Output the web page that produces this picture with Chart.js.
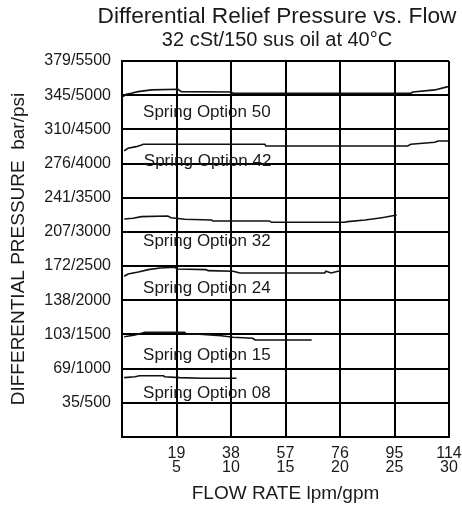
<!DOCTYPE html>
<html>
<head>
<meta charset="utf-8">
<script src="https://cdn.jsdelivr.net/npm/chart.js@4/dist/chart.umd.min.js"></script>
<style>
  html, body { margin: 0; padding: 0; background: #ffffff; }
  #wrap { width: 462px; height: 511px; }
</style>
</head>
<body>
<div id="wrap"><canvas id="c" width="462" height="511"></canvas></div>
<script>
// ---- text ----
const chartTitle = 'Differential Relief Pressure vs. Flow';
const chartSubtitle = '32 cSt/150 sus oil at 40°C';
const xAxisTitle = 'FLOW RATE lpm/gpm';
const yAxisTitle = 'DIFFERENTIAL PRESSURE  bar/psi';

// ---- tick values and labels ----
const flowTicksGpm = [0, 5, 10, 15, 20, 25, 30];
const flowLabelsLpm = ['', '19', '38', '57', '76', '95', '114'];
const flowLabelsGpm = ['', '5', '10', '15', '20', '25', '30'];
const pressureTicksPsi = [0, 500, 1000, 1500, 2000, 2500, 3000, 3500, 4000, 4500, 5000, 5500];
const pressureLabels = ['', '35/500', '69/1000', '103/1500', '138/2000', '172/2500', '207/3000',
                        '241/3500', '276/4000', '310/4500', '345/5000', '379/5500'];

// ---- series (flow in gpm, pressure in psi) ----
const seriesNames = ['Spring Option 50', 'Spring Option 42', 'Spring Option 32',
                     'Spring Option 24', 'Spring Option 15', 'Spring Option 08'];

const opt50Flow = [0.1, 0.4, 0.85, 1.47, 2.7, 5.14, 5.44, 10.0, 10.2, 26.5, 26.7, 28.7, 29.9];
const opt50Psi  = [4979, 5014, 5028, 5052, 5077, 5087, 5052, 5047, 5028, 5028, 5047, 5077, 5125];

const opt42Flow = [0.2, 0.55, 1.3, 1.8, 1.95, 13.1, 13.2, 26.2, 26.5, 28.7, 29.0, 30];
const opt42Psi  = [4184, 4224, 4247, 4272, 4282, 4282, 4257, 4257, 4282, 4311, 4330, 4330];

const opt32Flow = [0.2, 1.0, 1.8, 4.2, 4.5, 5.75, 8.2, 8.35, 13.55, 13.7, 20.4, 20.7, 22.3, 23.5, 24.1, 25.2];
const opt32Psi  = [3189, 3200, 3223, 3233, 3208, 3185, 3175, 3160, 3160, 3141, 3141, 3150, 3175, 3200, 3214, 3248];

const opt24Flow = [0.2, 0.55, 1.5, 2.4, 3.5, 4.8, 5.1, 7.7, 7.9, 10.2, 10.8, 18.6, 18.7, 19.2, 19.8, 20.1];
const opt24Psi  = [2351, 2385, 2414, 2448, 2472, 2483, 2458, 2448, 2433, 2424, 2399, 2399, 2424, 2399, 2424, 2424];

const opt15Flow = [0.2, 1.2, 2.1, 5.75, 5.9, 7.1, 9.1, 10.2, 12.0, 12.2, 17.4];
const opt15Psi  = [1467, 1492, 1532, 1532, 1507, 1502, 1482, 1459, 1444, 1419, 1419];

const opt08Flow = [0.2, 1.2, 1.6, 3.8, 3.9, 5.3, 7.4, 10.5];
const opt08Psi  = [868, 882, 897, 897, 882, 868, 859, 859];

const seriesFlow = [opt50Flow, opt42Flow, opt32Flow, opt24Flow, opt15Flow, opt08Flow];
const seriesPsi  = [opt50Psi, opt42Psi, opt32Psi, opt24Psi, opt15Psi, opt08Psi];

// label anchors (left edge x in gpm, vertical centre in psi)
const labelFlow = [1.93, 2.0, 1.93, 1.93, 1.93, 1.93];
const labelPsi  = [4770, 4053, 2882, 2195, 1214, 658];

// ---- build ----
const FONT = '"Liberation Sans", Arial, Helvetica, sans-serif';
const INK = '#1a1a1a';
const LINE = '#000000';

const datasets = seriesNames.map((name, i) => ({
  label: name,
  data: seriesFlow[i].map((x, j) => ({ x: x, y: seriesPsi[i][j] })),
  borderColor: '#111111',
  borderWidth: 1.6,
  pointRadius: 0,
  tension: 0,
  fill: false
}));

const titlePlugin = {
  id: 'titleText',
  afterDraw(chart) {
    const ctx = chart.ctx;
    ctx.save();
    ctx.fillStyle = INK;
    ctx.textAlign = 'center';
    ctx.textBaseline = 'alphabetic';
    ctx.font = '22.7px ' + FONT;
    ctx.fillText(chartTitle, 277, 23);
    ctx.font = '20px ' + FONT;
    ctx.fillText(chartSubtitle, 277, 46);
    ctx.restore();
  }
};

const seriesLabelPlugin = {
  id: 'seriesLabels',
  afterDatasetsDraw(chart) {
    const ctx = chart.ctx;
    const xs = chart.scales.x, ys = chart.scales.y;
    ctx.save();
    ctx.font = '17px ' + FONT;
    ctx.textAlign = 'left';
    ctx.textBaseline = 'middle';
    seriesNames.forEach((name, i) => {
      const px = xs.getPixelForValue(labelFlow[i]);
      const py = ys.getPixelForValue(labelPsi[i]);
      ctx.fillStyle = INK;
      ctx.fillText(name, px, py + 1);
    });
    ctx.restore();
  }
};

new Chart(document.getElementById('c'), {
  type: 'scatter',
  data: { datasets: datasets },
  plugins: [seriesLabelPlugin, titlePlugin],
  options: {
    responsive: false,
    animation: false,
    devicePixelRatio: 1,
    showLine: true,
    layout: { padding: { left: 0, top: 61, right: 13, bottom: 0 } },
    plugins: {
      legend: { display: false },
      tooltip: { enabled: false },
      title: { display: false }
    },
    scales: {
      x: {
        type: 'linear',
        min: 0, max: 30,
        afterFit(scale) { scale.height = 74; scale.paddingRight = 0; scale.paddingLeft = 0; },
        ticks: {
          stepSize: 5,
          autoSkip: false, maxRotation: 0, padding: 9,
          color: INK,
          font: { family: FONT, size: 16, lineHeight: 0.92 },
          callback(v) {
            const i = flowTicksGpm.indexOf(v);
            if (i <= 0) return '';
            return [flowLabelsLpm[i], flowLabelsGpm[i]];
          }
        },
        grid: { display: true, drawOnChartArea: true, color: LINE, lineWidth: 2, drawTicks: false },
        border: { display: true, color: LINE, width: 2 },
        title: {
          display: true, text: xAxisTitle, color: INK,
          font: { family: FONT, size: 19 },
          padding: { top: 0, bottom: 6 }
        }
      },
      y: {
        type: 'linear',
        min: 0, max: 5500,
        afterFit(scale) { scale.width = 122; scale.paddingTop = 0; scale.paddingBottom = 0; },
        ticks: {
          stepSize: 500,
          autoSkip: false, padding: 11,
          color: INK,
          font: { family: FONT, size: 16 },
          callback(v) {
            const i = pressureTicksPsi.indexOf(v);
            return i < 0 ? '' : pressureLabels[i];
          }
        },
        grid: { display: true, drawOnChartArea: true, color: LINE, lineWidth: 2, drawTicks: false },
        border: { display: true, color: LINE, width: 2 },
        title: {
          display: true, text: yAxisTitle, color: INK,
          font: { family: FONT, size: 19 },
          padding: { top: 7, bottom: 0 }
        }
      }
    }
  }
});
</script>
</body>
</html>
